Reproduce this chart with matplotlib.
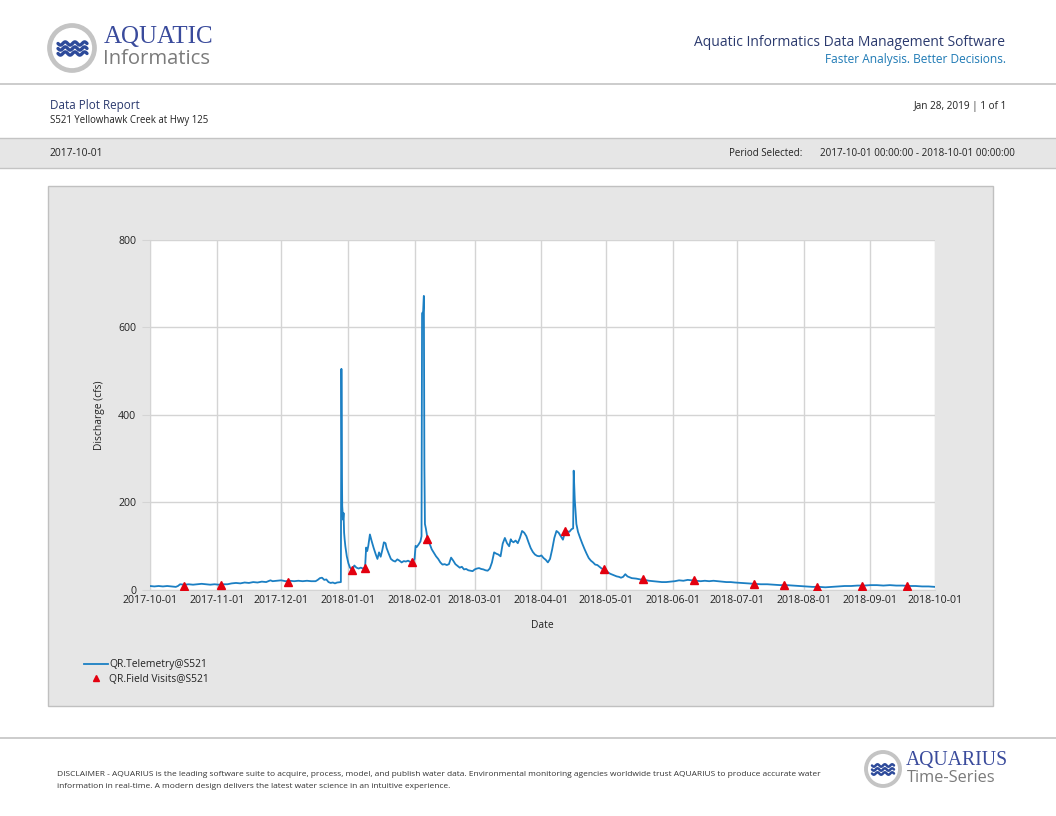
import numpy as np
import pandas as pd
import matplotlib
matplotlib.use("Agg")
import matplotlib.pyplot as plt
import matplotlib.dates as mdates
from matplotlib.patches import Rectangle, Circle

# ---------------- data ----------------
telemetry_times = [
    "2017-10-01", "2017-10-03", "2017-10-05", "2017-10-07", "2017-10-09", "2017-10-11",
    "2017-10-13", "2017-10-14", "2017-10-15", "2017-10-17", "2017-10-19", "2017-10-21",
    "2017-10-23", "2017-10-25", "2017-10-27", "2017-10-29", "2017-10-31", "2017-11-02",
    "2017-11-04", "2017-11-06", "2017-11-08", "2017-11-10", "2017-11-12", "2017-11-14",
    "2017-11-16", "2017-11-18", "2017-11-20", "2017-11-22", "2017-11-24", "2017-11-26",
    "2017-11-27", "2017-11-29", "2017-12-01", "2017-12-03", "2017-12-05", "2017-12-07",
    "2017-12-09", "2017-12-11", "2017-12-13", "2017-12-15", "2017-12-17", "2017-12-18",
    "2017-12-19", "2017-12-20", "2017-12-21", "2017-12-22", "2017-12-23", "2017-12-24",
    "2017-12-25", "2017-12-26", "2017-12-27", "2017-12-28 18:00", "2017-12-29 00:00",
    "2017-12-29 06:00", "2017-12-29 09:00", "2017-12-29 14:00", "2017-12-29 18:00",
    "2017-12-30 00:00", "2017-12-30 06:00", "2017-12-30 12:00", "2017-12-30 20:00",
    "2017-12-31 12:00", "2018-01-01 06:00", "2018-01-02", "2018-01-03", "2018-01-04",
    "2018-01-05", "2018-01-06", "2018-01-07", "2018-01-08", "2018-01-09",
    "2018-01-09 12:00", "2018-01-10", "2018-01-10 12:00", "2018-01-11 06:00",
    "2018-01-12", "2018-01-13", "2018-01-14", "2018-01-14 18:00", "2018-01-15 12:00",
    "2018-01-16 06:00", "2018-01-17", "2018-01-17 18:00", "2018-01-18 12:00",
    "2018-01-19", "2018-01-20", "2018-01-21", "2018-01-22", "2018-01-23", "2018-01-24",
    "2018-01-25", "2018-01-26", "2018-01-27", "2018-01-28", "2018-01-29", "2018-01-30",
    "2018-01-31", "2018-02-01", "2018-02-01 12:00", "2018-02-02", "2018-02-03",
    "2018-02-03 18:00", "2018-02-04 06:00", "2018-02-04 12:00", "2018-02-05 00:00",
    "2018-02-05 08:00", "2018-02-05 14:00", "2018-02-05 20:00", "2018-02-06 06:00",
    "2018-02-07", "2018-02-08", "2018-02-09", "2018-02-10", "2018-02-11", "2018-02-12",
    "2018-02-13", "2018-02-14", "2018-02-15", "2018-02-16", "2018-02-17", "2018-02-18",
    "2018-02-19", "2018-02-20", "2018-02-21", "2018-02-22", "2018-02-23", "2018-02-24",
    "2018-02-25", "2018-02-26", "2018-02-27", "2018-02-28", "2018-03-01", "2018-03-02",
    "2018-03-03", "2018-03-04", "2018-03-05", "2018-03-06", "2018-03-07", "2018-03-08",
    "2018-03-09", "2018-03-10", "2018-03-11", "2018-03-12", "2018-03-13", "2018-03-14",
    "2018-03-15", "2018-03-16", "2018-03-17", "2018-03-17 18:00", "2018-03-18",
    "2018-03-19", "2018-03-20", "2018-03-21", "2018-03-22", "2018-03-23", "2018-03-24",
    "2018-03-25", "2018-03-26", "2018-03-27", "2018-03-28", "2018-03-29", "2018-03-30",
    "2018-03-31", "2018-04-01", "2018-04-02", "2018-04-03", "2018-04-04", "2018-04-05",
    "2018-04-06", "2018-04-07", "2018-04-08", "2018-04-09", "2018-04-10", "2018-04-11",
    "2018-04-12", "2018-04-13", "2018-04-14", "2018-04-15", "2018-04-15 18:00",
    "2018-04-16 00:00", "2018-04-16 12:00", "2018-04-17 06:00", "2018-04-18",
    "2018-04-19", "2018-04-20", "2018-04-21", "2018-04-22", "2018-04-23", "2018-04-24",
    "2018-04-25", "2018-04-26", "2018-04-27", "2018-04-28", "2018-04-29", "2018-04-30",
    "2018-05-01", "2018-05-02", "2018-05-03", "2018-05-04", "2018-05-05", "2018-05-06",
    "2018-05-07", "2018-05-08", "2018-05-09", "2018-05-10", "2018-05-11", "2018-05-12",
    "2018-05-13", "2018-05-15", "2018-05-17", "2018-05-19", "2018-05-21", "2018-05-23",
    "2018-05-25", "2018-05-27", "2018-05-29", "2018-05-31", "2018-06-02", "2018-06-04",
    "2018-06-06", "2018-06-08", "2018-06-10", "2018-06-12", "2018-06-14", "2018-06-16",
    "2018-06-18", "2018-06-20", "2018-06-22", "2018-06-24", "2018-06-26", "2018-06-28",
    "2018-06-30", "2018-07-03", "2018-07-06", "2018-07-09", "2018-07-12", "2018-07-15",
    "2018-07-18", "2018-07-21", "2018-07-24", "2018-07-27", "2018-07-30", "2018-08-02",
    "2018-08-05", "2018-08-08", "2018-08-11", "2018-08-14", "2018-08-17", "2018-08-20",
    "2018-08-23", "2018-08-26", "2018-08-29", "2018-09-01", "2018-09-04", "2018-09-07",
    "2018-09-10", "2018-09-13", "2018-09-16", "2018-09-19", "2018-09-22", "2018-09-25",
    "2018-09-28", "2018-10-01",
]
telemetry_cfs = [
    8, 7, 8, 7, 8, 7,
    6, 8, 12, 11, 12, 11,
    12, 13, 12, 11, 12, 11,
    12, 12, 14, 15, 14, 16,
    15, 17, 16, 18, 17, 21,
    19, 20, 21, 19, 20, 19,
    20, 19, 20, 19, 19, 22,
    26, 27, 22, 23, 17, 15,
    16, 14, 16, 17, 505,
    260, 191, 175, 160,
    175, 130, 115, 99,
    76, 60, 50, 45, 55,
    50, 48, 50, 48, 50,
    96, 88, 100, 126,
    112, 95, 80, 70, 85,
    75, 90, 108, 106,
    95, 82, 70, 66, 64, 69,
    66, 62, 65, 64, 66, 63,
    62, 70, 100, 97, 104,
    110, 122, 632, 636,
    672, 280, 150, 140,
    118, 105, 92, 84, 76, 70,
    62, 57, 58, 56, 58, 73,
    66, 58, 54, 50, 52, 46,
    47, 44, 43, 42, 46, 48,
    49, 47, 46, 44, 43, 48,
    62, 85, 82, 80, 76, 105,
    118, 106, 99, 115, 112,
    108, 112, 106, 118, 134, 130,
    122, 108, 95, 86, 80, 77,
    76, 78, 72, 68, 62, 70,
    92, 118, 134, 130, 122, 114,
    132, 133, 132, 138, 140,
    272, 206, 150, 132,
    118, 105, 93, 82, 72, 66,
    62, 57, 56, 52, 48, 46,
    44, 39, 36, 34, 32, 30,
    29, 27, 29, 35, 30, 28,
    26, 25, 23, 22, 20, 19,
    18, 17, 17, 18, 19, 21,
    20, 22, 21, 20, 19, 20,
    19, 20, 19, 18, 17, 17,
    16, 15, 14, 13, 12, 12,
    11, 10, 10, 9, 8, 7,
    6, 6, 5, 6, 7, 8,
    8, 9, 9, 10, 10, 9,
    10, 9, 9, 8, 8, 7,
    7, 6,
]

visit_dates = [
    "2017-10-17", "2017-11-03", "2017-12-04", "2018-01-03", "2018-01-09", "2018-01-31",
    "2018-02-07", "2018-04-12", "2018-04-30", "2018-05-18", "2018-06-11", "2018-07-09",
    "2018-07-23", "2018-08-07", "2018-08-28", "2018-09-18",
]
visit_cfs = [9, 10, 17, 44, 50, 63, 116, 135, 46, 23, 21, 13, 10, 6, 9, 8]

x_tick_labels = [
    "2017-10-01", "2017-11-01", "2017-12-01", "2018-01-01", "2018-02-01", "2018-03-01",
    "2018-04-01", "2018-05-01", "2018-06-01", "2018-07-01", "2018-08-01", "2018-09-01",
    "2018-10-01",
]
y_ticks = [0, 200, 400, 600, 800]

series_names = ["QR.Telemetry@S521", "QR.Field Visits@S521"]

# ---------------- figure ----------------
W, H = 1056, 816
fig = plt.figure(figsize=(W / 100, H / 100), dpi=100)
fig.patch.set_facecolor("white")

FONT = "Open Sans"
NAVY = "#2b3a6e"
GRID = "#d4d4d4"
TXT = "#222222"

page = fig.add_axes([0, 0, 1, 1], zorder=0)
page.set_xlim(0, W)
page.set_ylim(H, 0)
page.axis("off")

# header logo
page.add_patch(Circle((72, 48), 22.5, facecolor="white", edgecolor="#c4c4c4", lw=3.4))
wx = np.linspace(58, 87, 80)
for wy in (43.5, 48.5, 53.5):
    page.plot(wx, wy + 1.6 * np.sin((wx - 58) / 29 * 3 * 2 * np.pi), color="#2d4a9a", lw=2.4,
              solid_capstyle="round")
page.text(104, 37, "AQUATIC", fontsize=18, family="Liberation Serif", color="#3a4b9c",
          va="center", ha="left")
page.text(103, 59, "Informatics", fontsize=14.6, family=FONT, color="#7b7b7b",
          va="center", ha="left")

page.text(1005, 42, "Aquatic Informatics Data Management Software", fontsize=10.0,
          family=FONT, color=NAVY, ha="right", va="center")
page.text(1006, 60, "Faster Analysis. Better Decisions.", fontsize=8.6, family=FONT,
          color="#1f7ab5", ha="right", va="center")
page.plot([0, W], [84, 84], color="#c4c4c4", lw=1.2)

page.text(50, 105, "Data Plot Report", fontsize=8.4, family=FONT, color=NAVY,
          ha="left", va="center")
page.text(50, 120, "S521 Yellowhawk Creek at Hwy 125", fontsize=6.9, family=FONT,
          color=TXT, ha="left", va="center")
page.text(1007, 107, "Jan 28, 2019 | 1 of 1", fontsize=7.2, family=FONT,
          color=TXT, ha="right", va="center")

page.add_patch(Rectangle((0, 138), W, 30, facecolor="#e6e6e6", edgecolor="none"))
page.plot([0, W], [138, 138], color="#c4c4c4", lw=1.0)
page.plot([0, W], [168, 168], color="#c4c4c4", lw=1.0)
page.text(50, 153, "2017-10-01", fontsize=7.4, family=FONT, color=TXT,
          ha="left", va="center")
page.text(729, 153, "Period Selected:", fontsize=7.0, family=FONT, color=TXT,
          ha="left", va="center")
page.text(1015, 153, "2017-10-01 00:00:00 - 2018-10-01 00:00:00", fontsize=7.1,
          family=FONT, color=TXT, ha="right", va="center")

# chart panel
page.add_patch(Rectangle((48, 186), 945, 520, facecolor="#e6e6e6", edgecolor="#c0c0c0", lw=1.0))

# footer
page.plot([0, W], [738, 738], color="#c4c4c4", lw=1.2)
page.text(57, 774, "DISCLAIMER - AQUARIUS is the leading software suite to acquire, process, model, and "
          "publish water data. Environmental monitoring agencies worldwide trust AQUARIUS to produce "
          "accurate water", fontsize=6.0, family=FONT, color="#333333", ha="left", va="center")
page.text(57, 786, "information in real-time. A modern design delivers the latest water science in "
          "an intuitive experience.", fontsize=6.0, family=FONT, color="#333333",
          ha="left", va="center")
page.add_patch(Circle((883, 769), 17, facecolor="white", edgecolor="#c4c4c4", lw=2.8))
wx2 = np.linspace(872, 894, 60)
for wy in (765.5, 769.5, 773.5):
    page.plot(wx2, wy + 1.2 * np.sin((wx2 - 872) / 22 * 3 * 2 * np.pi), color="#2d4a9a", lw=1.8,
              solid_capstyle="round")
page.text(906, 761, "AQUARIUS", fontsize=14.2, family="Liberation Serif", color="#3a4b9c",
          ha="left", va="center")
page.text(907, 778, "Time-Series", fontsize=11.8, family=FONT, color="#7b7b7b",
          ha="left", va="center")

# ---------------- main plot ----------------
ax_left, ax_right, ax_top, ax_bottom = 150, 935, 240, 589.5
ax = fig.add_axes([ax_left / W, 1 - ax_bottom / H, (ax_right - ax_left) / W,
                   (ax_bottom - ax_top) / H], zorder=2)
ax.set_facecolor("white")

t = pd.to_datetime(telemetry_times, format="mixed")
v = pd.to_datetime(visit_dates, format="mixed")
line, = ax.plot(t, telemetry_cfs, color="#1b7fc3", lw=1.3, label=series_names[0], zorder=3)
pts, = ax.plot(v, visit_cfs, linestyle="none", marker="^", markersize=5.2, color="#e3000f",
               label=series_names[1], zorder=4)

xt = pd.to_datetime(x_tick_labels, format="mixed")
ax.set_xlim(xt[0], xt[-1])
ax.set_ylim(0, 800)
ax.set_xticks(xt)
ax.set_xticklabels(x_tick_labels)
ax.set_yticks(y_ticks)
ax.set_yticklabels([str(y) for y in y_ticks])
ax.grid(True, color=GRID, lw=1.0)
ax.set_axisbelow(True)
for s in ax.spines.values():
    s.set_visible(False)
ax.spines["bottom"].set_visible(True)
ax.spines["bottom"].set_color(GRID)
ax.spines["left"].set_visible(True)
ax.spines["left"].set_color(GRID)
ax.tick_params(axis="y", length=6, color=GRID, labelsize=7.6, labelcolor=TXT, pad=4)
ax.tick_params(axis="x", length=0, labelsize=7.6, labelcolor=TXT, pad=4)
for lab in ax.get_xticklabels() + ax.get_yticklabels():
    lab.set_family(FONT)

ax.set_xlabel("Date", fontsize=7.4, family=FONT, color=TXT, labelpad=10)
ax.set_ylabel("Discharge (cfs)", fontsize=7.4, family=FONT, color=TXT, labelpad=9)

leg = fig.legend(handles=[line, pts], labels=series_names, loc="upper left",
                 bbox_to_anchor=(80 / W, 1 - 655 / H), frameon=False,
                 prop={"family": FONT, "size": 7.4}, handlelength=2.3, handletextpad=0.15,
                 labelspacing=0.38, borderaxespad=0, markerscale=0.8)
for txt in leg.get_texts():
    txt.set_color(TXT)

fig.savefig("out.png", dpi=100, facecolor="white")
